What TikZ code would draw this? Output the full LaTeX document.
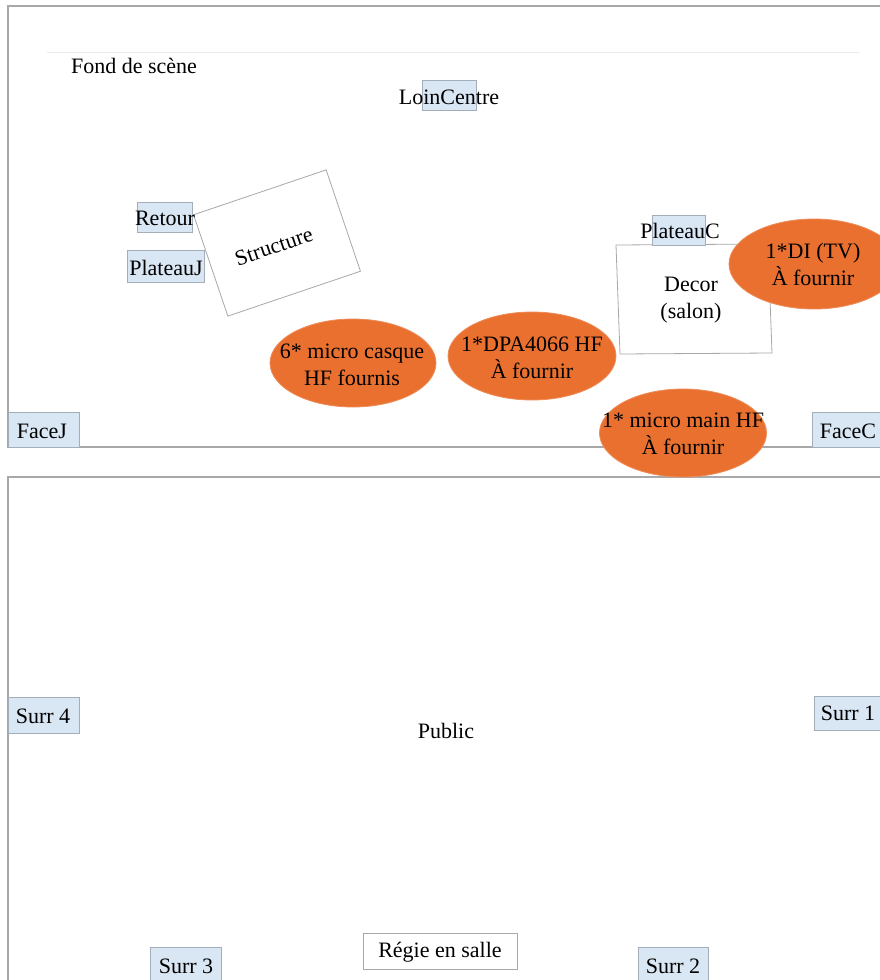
\documentclass[tikz,border=0pt]{standalone}
\usepackage{fontspec}
\setmainfont{Liberation Serif}
\usetikzlibrary{shapes.geometric}
\definecolor{boxfill}{HTML}{D9E6F3}
\definecolor{boxline}{HTML}{A3AEBA}
\definecolor{frameline}{HTML}{A8A8A8}
\definecolor{micfill}{HTML}{EA7030}
\tikzset{
  txt/.style={inner sep=0pt, font=\fontsize{22}{27}\selectfont, align=center, text=black},
  tag/.style={draw=boxline, fill=boxfill, line width=0.8pt, inner sep=0pt},
  frame/.style={draw=frameline, line width=1.2pt},
  micro/.style={ellipse, fill=micfill, draw=micfill!80!white, line width=0.8pt, inner sep=0pt},
  plain/.style={draw=frameline, line width=0.8pt, fill=white, inner sep=0pt}
}
\begin{document}
\begin{tikzpicture}[x=1pt,y=-1pt]
\useasboundingbox (0,0) rectangle (880,980);
\clip (0,0) rectangle (880,980);
\fill[white] (0,0) rectangle (880,980);
% frames
\coordinate (s1) at (880,6);
\coordinate (s2) at (8,6);
\coordinate (s3) at (8,447);
\coordinate (s4) at (880,447);
\draw[frame] (s1) -- (s2) -- (s3) -- (s4);
\coordinate (p1) at (880,477);
\coordinate (p2) at (8,477);
\coordinate (p3) at (8,985);
\draw[frame] (p1) -- (p2) -- (p3);
\coordinate (l1) at (47,52);
\coordinate (l2) at (860,52);
\draw[draw=black!8, line width=0.8pt] (l1) -- (l2);

\node[txt] (fond) at (134,66) {Fond de scène};

% LoinCentre
\node[tag, minimum width=54, minimum height=30] (loinbox) at (449,95) {};
\node[txt] (loin) at (449,97) {LoinCentre};

% Structure
\node[plain, txt, rotate=18.7, minimum width=140, minimum height=107, text depth=0pt] (struct) at (277,243) {\raisebox{-4pt}{\hspace*{-8pt}Structure}};

% Retour / PlateauJ
\node[tag, minimum width=55, minimum height=30] (retbox) at (165,217) {};
\node[txt] (ret) at (165,218) {Retour};
\node[tag, minimum width=77, minimum height=32] (pjbox) at (166,266) {};
\node[txt] (pj) at (166,268) {PlateauJ};

% Decor
\coordinate (d1) at (616,245);
\coordinate (d2) at (768,244);
\coordinate (d3) at (772,353);
\coordinate (d4) at (620,354);
\draw[plain] (d1) -- (d2) -- (d3) -- (d4) -- cycle;
\node[txt] (decor) at (691,300) {Decor\\(salon)};

% PlateauC
\node[tag, minimum width=53, minimum height=30] (pcbox) at (679,230) {};
\node[txt] (pc) at (680,231) {PlateauC};

% micros
\node[micro, minimum width=170, minimum height=90] (di) at (814,264) {};
\node[txt] (dit) at (813,264) {1*DI (TV)\\À fournir};
\node[micro, minimum width=166, minimum height=88] (casque) at (353,363) {};
\node[txt] (casquet) at (352,365) {6* micro casque\\HF fournis};
\node[micro, minimum width=168, minimum height=88] (dpa) at (532,356) {};
\node[txt] (dpat) at (532,358) {1*DPA4066 HF\\À fournir};

% FaceJ / FaceC
\node[tag, minimum width=71, minimum height=35] (fjbox) at (44,430) {};
\node[txt] (fj) at (42,431) {FaceJ};
\node[tag, minimum width=70, minimum height=35] (fcbox) at (847,430) {};
\node[txt] (fc) at (848,431) {FaceC};

\node[micro, minimum width=167, minimum height=88] (main) at (683,433) {};
\node[txt] (maint) at (683,434) {1* micro main HF\\À fournir};

% Public
\node[txt] (public) at (446,731) {Public};
\node[tag, minimum width=71, minimum height=36] (s4box) at (44,715) {};
\node[txt] (surr4) at (43,716) {Surr 4};
\node[tag, minimum width=68, minimum height=34] (s1box) at (848,713) {};
\node[txt] (surr1) at (848,713) {Surr 1};
\node[tag, minimum width=71, minimum height=36] (s3box) at (186,965) {};
\node[txt] (surr3) at (186,966) {Surr 3};
\node[tag, minimum width=70, minimum height=36] (s2box) at (673,965) {};
\node[txt] (surr2) at (673,966) {Surr 2};
\node[plain, minimum width=154, minimum height=36] (regiebox) at (440,951) {};
\node[txt] (regie) at (440,952) {Régie en salle};
\end{tikzpicture}
\end{document}
